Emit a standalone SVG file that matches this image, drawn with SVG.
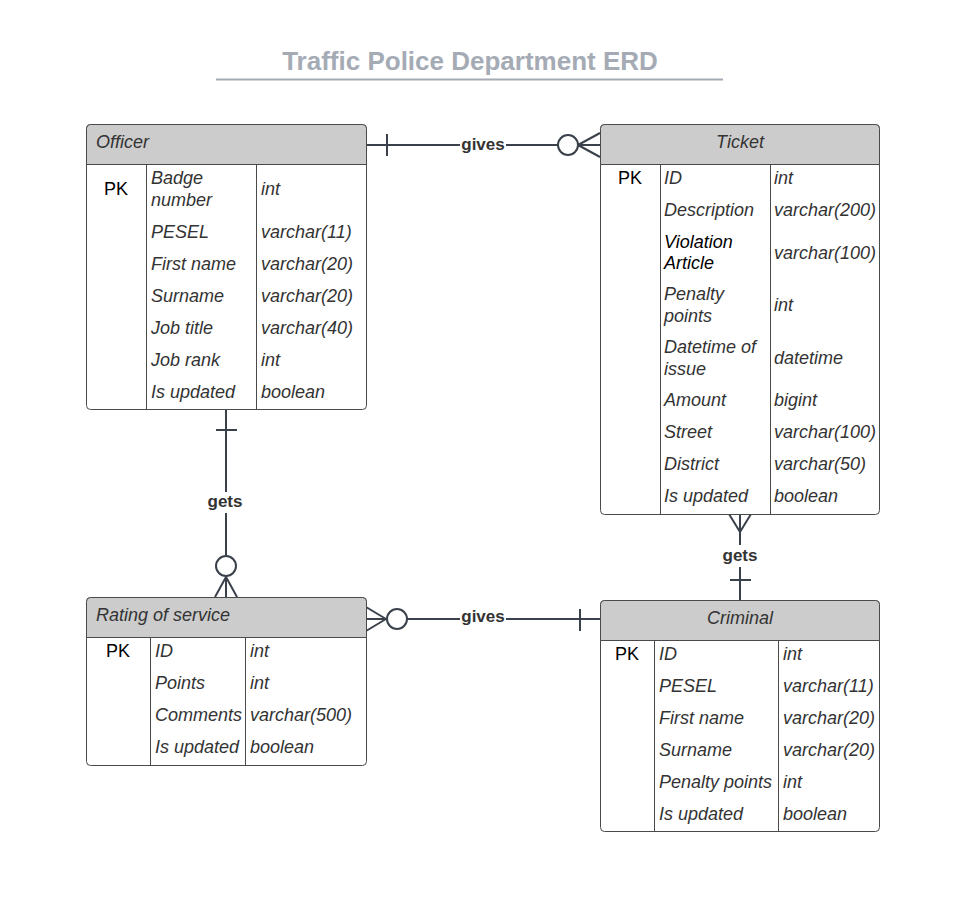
<svg xmlns="http://www.w3.org/2000/svg" width="971" height="921" viewBox="0 0 971 921">
<style>
.box{fill:#fff;stroke:#4a4a4a;stroke-width:1}
.hdr{fill:#cccccc;stroke:#4a4a4a;stroke-width:1}
.div{stroke:#4a4a4a;stroke-width:1}
.t{font-family:"Liberation Sans",Arial,sans-serif;font-size:18px;font-style:italic;fill:#333}
.k{font-family:"Liberation Sans",Arial,sans-serif;font-size:18px;fill:#000}
.h{font-family:"Liberation Sans",Arial,sans-serif;font-size:18px;font-style:italic;fill:#333}
.blk{fill:#000}
.c{stroke:#3a414a;stroke-width:2;fill:none}
.cc{stroke:#3a414a;stroke-width:2;fill:#fff}
.lbl{font-family:"Liberation Sans",Arial,sans-serif;font-size:17px;font-weight:bold;fill:#333;text-anchor:middle}
.lb{fill:#fff}
</style>
<rect width="971" height="921" fill="#fff"/>
<g id="title">
<text x="470" y="70" font-family="Liberation Sans,Arial,sans-serif" font-size="26" font-weight="bold" fill="#a5abb5" text-anchor="middle">Traffic Police Department ERD</text>
<line x1="216" y1="79.5" x2="723" y2="79.5" stroke="#a5abb5" stroke-width="2"/>
</g>
<g id="connectors">
<line class="c" x1="366" y1="145" x2="600" y2="145"/>
<line class="c" x1="387" y1="134" x2="387" y2="156"/>
<line class="c" x1="578" y1="145" x2="600" y2="133"/>
<line class="c" x1="578" y1="145" x2="600" y2="157"/>
<circle class="cc" cx="568" cy="145" r="10"/>
<rect class="lb" x="460" y="134" width="46" height="20"/>
<text class="lbl" x="483" y="149.5">gives</text>

<line class="c" x1="226" y1="409" x2="226" y2="597"/>
<line class="c" x1="216" y1="430" x2="237" y2="430"/>
<line class="c" x1="226" y1="577" x2="215" y2="597"/>
<line class="c" x1="226" y1="577" x2="237" y2="597"/>
<circle class="cc" cx="226" cy="566" r="10"/>
<rect class="lb" x="204" y="492" width="44" height="21"/>
<text class="lbl" x="225" y="506.5">gets</text>

<line class="c" x1="366" y1="619" x2="600" y2="619"/>
<line class="c" x1="386" y1="619" x2="366" y2="607"/>
<line class="c" x1="386" y1="619" x2="366" y2="631"/>
<circle class="cc" cx="397" cy="619" r="10"/>
<line class="c" x1="580" y1="609" x2="580" y2="631"/>
<rect class="lb" x="460" y="606" width="46" height="20"/>
<text class="lbl" x="483" y="622">gives</text>

<line class="c" x1="740" y1="514" x2="740" y2="600"/>
<line class="c" x1="740" y1="532" x2="729" y2="514"/>
<line class="c" x1="740" y1="532" x2="751" y2="514"/>
<line class="c" x1="730" y1="580" x2="751" y2="580"/>
<rect class="lb" x="718" y="545" width="44" height="22"/>
<text class="lbl" x="740" y="560.5">gets</text>
</g>

<g id="officer">
<rect class="box" x="86.5" y="124.5" width="280" height="285" rx="4"/>
<path class="hdr" d="M86.5 164.5V128.5a4 4 0 0 1 4-4h272a4 4 0 0 1 4 4V164.5Z"/>
<line class="div" x1="146.5" y1="164.5" x2="146.5" y2="409.5"/>
<line class="div" x1="256.5" y1="164.5" x2="256.5" y2="409.5"/>
<text class="h" x="96" y="148">Officer</text>
<text class="k" x="116" y="194.5" text-anchor="middle">PK</text>
<text class="t" x="151" y="183.5">Badge</text>
<text class="t" x="151" y="205.5">number</text>
<text class="t" x="261" y="194.5">int</text>
<text class="t" x="151" y="237.5">PESEL</text><text class="t" x="261" y="237.5">varchar(11)</text>
<text class="t" x="151" y="269.5">First name</text><text class="t" x="261" y="269.5">varchar(20)</text>
<text class="t" x="151" y="301.5">Surname</text><text class="t" x="261" y="301.5">varchar(20)</text>
<text class="t" x="151" y="333.5">Job title</text><text class="t" x="261" y="333.5">varchar(40)</text>
<text class="t" x="151" y="365.5">Job rank</text><text class="t" x="261" y="365.5">int</text>
<text class="t" x="151" y="397.5">Is updated</text><text class="t" x="261" y="397.5">boolean</text>
</g>

<g id="ticket">
<rect class="box" x="600.5" y="124.5" width="279" height="390" rx="4"/>
<path class="hdr" d="M600.5 164.5V128.5a4 4 0 0 1 4-4h271a4 4 0 0 1 4 4V164.5Z"/>
<line class="div" x1="660.5" y1="164.5" x2="660.5" y2="514.5"/>
<line class="div" x1="770.5" y1="164.5" x2="770.5" y2="514.5"/>
<text class="h" x="740" y="148" text-anchor="middle">Ticket</text>
<text class="k" x="630" y="184" text-anchor="middle">PK</text>
<text class="t" x="664" y="184">ID</text><text class="t" x="774" y="184">int</text>
<text class="t" x="664" y="216">Description</text><text class="t" x="774" y="216">varchar(200)</text>
<text class="t blk" x="664" y="248">Violation</text>
<text class="t blk" x="664" y="269">Article</text>
<text class="t" x="774" y="259">varchar(100)</text>
<text class="t" x="664" y="300">Penalty</text>
<text class="t" x="664" y="322">points</text>
<text class="t" x="774" y="311">int</text>
<text class="t" x="664" y="353">Datetime of</text>
<text class="t" x="664" y="375">issue</text>
<text class="t" x="774" y="364">datetime</text>
<text class="t" x="664" y="406">Amount</text><text class="t" x="774" y="406">bigint</text>
<text class="t" x="664" y="438">Street</text><text class="t" x="774" y="438">varchar(100)</text>
<text class="t" x="664" y="470">District</text><text class="t" x="774" y="470">varchar(50)</text>
<text class="t" x="664" y="502">Is updated</text><text class="t" x="774" y="502">boolean</text>
</g>

<g id="rating">
<rect class="box" x="86.5" y="597.5" width="280" height="168" rx="4"/>
<path class="hdr" d="M86.5 637.5V601.5a4 4 0 0 1 4-4h272a4 4 0 0 1 4 4V637.5Z"/>
<line class="div" x1="150.5" y1="637.5" x2="150.5" y2="765.5"/>
<line class="div" x1="245.5" y1="637.5" x2="245.5" y2="765.5"/>
<text class="h" x="96" y="621">Rating of service</text>
<text class="k" x="118" y="657" text-anchor="middle">PK</text>
<text class="t" x="155" y="657">ID</text><text class="t" x="250" y="657">int</text>
<text class="t" x="155" y="689">Points</text><text class="t" x="250" y="689">int</text>
<text class="t" x="155" y="721">Comments</text><text class="t" x="250" y="721">varchar(500)</text>
<text class="t" x="155" y="753">Is updated</text><text class="t" x="250" y="753">boolean</text>
</g>

<g id="criminal">
<rect class="box" x="600.5" y="600.5" width="279" height="231" rx="4"/>
<path class="hdr" d="M600.5 640.5V604.5a4 4 0 0 1 4-4h271a4 4 0 0 1 4 4V640.5Z"/>
<line class="div" x1="654.5" y1="640.5" x2="654.5" y2="831.5"/>
<line class="div" x1="778.5" y1="640.5" x2="778.5" y2="831.5"/>
<text class="h" x="740" y="623.5" text-anchor="middle">Criminal</text>
<text class="k" x="627" y="660" text-anchor="middle">PK</text>
<text class="t" x="659" y="660">ID</text><text class="t" x="783" y="660">int</text>
<text class="t" x="659" y="692">PESEL</text><text class="t" x="783" y="692">varchar(11)</text>
<text class="t" x="659" y="724">First name</text><text class="t" x="783" y="724">varchar(20)</text>
<text class="t" x="659" y="756">Surname</text><text class="t" x="783" y="756">varchar(20)</text>
<text class="t" x="659" y="788">Penalty points</text><text class="t" x="783" y="788">int</text>
<text class="t" x="659" y="820">Is updated</text><text class="t" x="783" y="820">boolean</text>
</g>
</svg>
